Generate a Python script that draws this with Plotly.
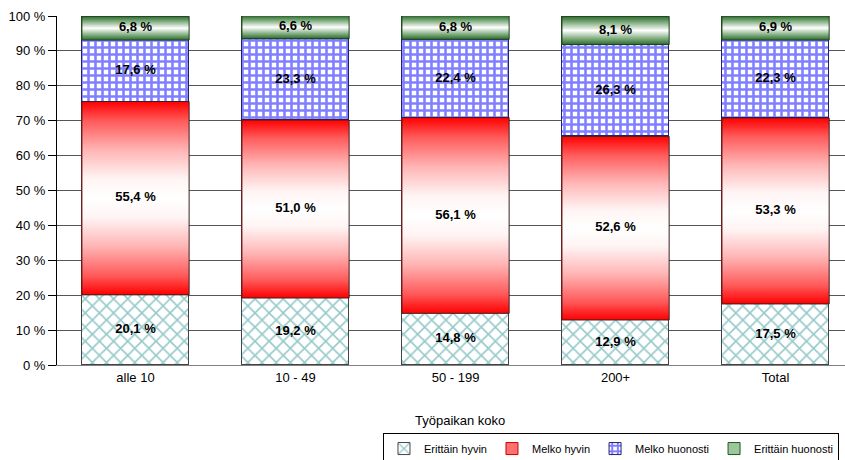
import plotly.graph_objects as go

# Workplace size groups and the share (%) of answers in each class
categories = ["alle 10", "10 - 49", "50 - 199", "200+", "Total"]
erittain_hyvin = [20.1, 19.2, 14.8, 12.9, 17.5]
melko_hyvin = [55.4, 51.0, 56.1, 52.6, 53.3]
melko_huonosti = [17.6, 23.3, 22.4, 26.3, 22.3]
erittain_huonosti = [6.8, 6.6, 6.8, 8.1, 6.9]
y_ticks = list(range(0, 101, 10))
y_tick_labels = [f"{v} %" for v in y_ticks]
x_title = "Työpaikan koko"

FONT = "Arial, Liberation Sans, sans-serif"
BAR_W = 0.67
xpos = list(range(len(categories)))

series = [
    ("Erittäin hyvin", erittain_hyvin),
    ("Melko hyvin", melko_hyvin),
    ("Melko huonosti", melko_huonosti),
    ("Erittäin huonosti", erittain_huonosti),
]

bar_styles = {
    "Erittäin hyvin": dict(color="white",
                           pattern=dict(shape="x", fgcolor="#2f9494", bgcolor="white",
                                        size=10, solidity=0.3, fillmode="overlay"),
                           line=dict(color="#444444", width=1)),
    "Melko hyvin": dict(color="#ff7070", line=dict(color="#cc0000", width=1)),
    "Melko huonosti": dict(color="white",
                           pattern=dict(shape="+", fgcolor="#0000ff", bgcolor="white",
                                        size=7, solidity=0.6, fillmode="overlay"),
                           line=dict(color="#22226a", width=1)),
    "Erittäin huonosti": dict(color="#9cc79c", line=dict(color="#1f5a1f", width=1)),
}

red_scale = [[0, "#ff0000"], [0.1, "#ff5a5a"], [0.25, "#ffb4b4"], [0.4, "#fff4f4"],
             [0.5, "#ffffff"], [0.6, "#fff4f4"], [0.75, "#ffb4b4"], [0.9, "#ff5a5a"],
             [1, "#ff0000"]]
green_scale = [[0, "#2c6a2c"], [0.2, "#7aa87a"], [0.5, "#ffffff"], [0.8, "#7aa87a"],
               [1, "#2c6a2c"]]

gradients = {
    "Melko hyvin": dict(scale=red_scale, line="#3a2020"),
    "Erittäin huonosti": dict(scale=green_scale, line="#1e3e1e"),
}

fig = go.Figure()

# Stacked bars (pattern fills and legend entries)
for name, vals in series:
    fig.add_trace(go.Bar(
        x=xpos, y=vals, width=BAR_W, name=name,
        marker=bar_styles[name], cliponaxis=False,
        textposition="none", hoverinfo="skip",
    ))

# Two-tone vertical gradients laid over the plain-colour segments
base = [0.0] * len(categories)
label_x, label_y, label_t = [], [], []
for name, vals in series:
    for i, v in enumerate(vals):
        b = base[i]
        if name in gradients:
            g = gradients[name]
            x0, x1 = xpos[i] - BAR_W / 2, xpos[i] + BAR_W / 2
            fig.add_trace(go.Scatter(
                x=[x0, x1, x1, x0, x0], y=[b, b, b + v, b + v, b],
                mode="lines", fill="toself",
                fillgradient=dict(type="vertical", colorscale=g["scale"]),
                line=dict(color=g["line"], width=1),
                showlegend=False, hoverinfo="skip", cliponaxis=False,
            ))
        label_x.append(xpos[i])
        label_y.append(b + v / 2)
        label_t.append(f"{v:.1f} %".replace(".", ","))
        base[i] = b + v

# Value labels
fig.add_trace(go.Scatter(
    x=label_x, y=label_y, text=label_t, mode="text",
    textposition="middle center",
    textfont=dict(family=FONT, size=13, color="black", weight="bold"),
    showlegend=False, hoverinfo="skip", cliponaxis=False,
))

fig.add_annotation(
    text=x_title, xref="paper", yref="paper", x=0.511, y=-0.16,
    xanchor="center", yanchor="middle", showarrow=False,
    font=dict(family=FONT, size=13, color="black"),
)

fig.update_layout(
    width=845, height=460,
    margin=dict(l=57, r=0, t=16, b=95, autoexpand=False),
    paper_bgcolor="white", plot_bgcolor="white",
    barmode="stack", bargap=0,
    font=dict(family=FONT, size=13, color="black"),
    showlegend=True,
    legend=dict(
        orientation="h", x=0.4137, y=-0.195, xanchor="left", yanchor="top",
        bordercolor="black", borderwidth=1, bgcolor="white",
        font=dict(family=FONT, size=11, color="black"),
        traceorder="normal", itemwidth=30,
    ),
    xaxis=dict(
        range=[-0.4906, 4.434], tickmode="array", tickvals=xpos, ticktext=categories,
        showgrid=False, zeroline=False, showline=True, linecolor="#808080", linewidth=1,
        ticks="", tickfont=dict(family=FONT, size=13, color="black"), fixedrange=True,
    ),
    yaxis=dict(
        range=[0, 100], tickmode="array", tickvals=y_ticks, ticktext=y_tick_labels,
        showgrid=True, gridcolor="#555555", gridwidth=1, zeroline=False,
        showline=True, linecolor="black", linewidth=1,
        ticks="outside", ticklen=8, tickcolor="black",
        tickfont=dict(family=FONT, size=13, color="black"), fixedrange=True,
    ),
)

fig.write_html("out.html")
